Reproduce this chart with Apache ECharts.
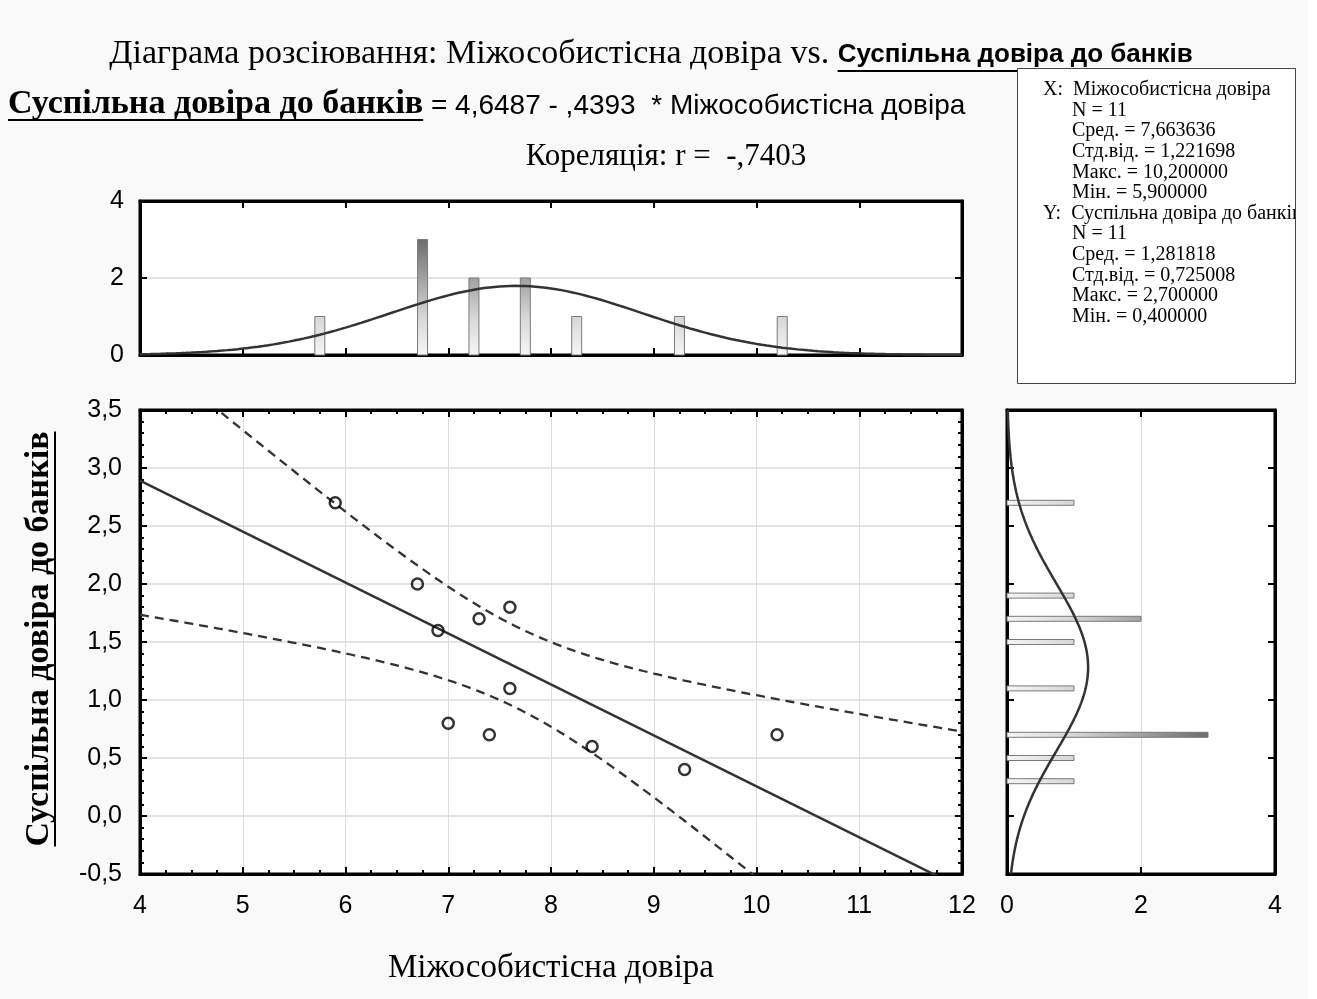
<!DOCTYPE html>
<html>
<head>
<meta charset="utf-8">
<script src="https://cdn.jsdelivr.net/npm/echarts@6/dist/echarts.min.js"></script>
<style>
  html, body { margin: 0; padding: 0; background: #ffffff; }
  #chart { width: 1317px; height: 999px; }
</style>
</head>
<body>
<div id="chart"></div>
<script>
// ---- data ----
const xName = 'Міжособистісна довіра';
const yName = 'Суспільна довіра до банків';
const xValues = [5.9, 6.7, 6.9, 7.3, 7.6, 7.6, 7.0, 7.4, 8.4, 9.3, 10.2];
const yValues = [2.7, 2.0, 1.6, 1.7, 1.8, 1.1, 0.8, 0.7, 0.6, 0.4, 0.7];

// histogram of X (bar position, count)
const xHistPos = [5.75, 6.75, 7.25, 7.75, 8.25, 9.25, 10.25];
const xHistCount = [1, 3, 2, 2, 1, 1, 1];
const xHistBinWidth = 0.5;
// histogram of Y (bar position, count)
const yHistPos = [0.3, 0.5, 0.7, 1.1, 1.5, 1.7, 1.9, 2.7];
const yHistCount = [1, 1, 3, 1, 1, 2, 1, 1];
const yHistBinWidth = 0.2;

// summary statistics
const nObs = 11;
const xMean = 7.663636, xSd = 1.221698, xMax = 10.2, xMin = 5.9;
const yMean = 1.281818, ySd = 0.725008, yMax = 2.7, yMin = 0.4;
const intercept = 4.6487, slope = -0.4393, corr = -0.7403;
const tCrit = 2.262157; // t(0.975, n-2)

// tick labels
const mainXTicks = [4, 5, 6, 7, 8, 9, 10, 11, 12];
const mainYTicks = [-0.5, 0, 0.5, 1, 1.5, 2, 2.5, 3, 3.5];
const histCountTicks = [0, 2, 4];

// ---- helpers ----
const fmtNum = (v, d) => v.toFixed(d).replace('.', ',');
const fmtCoef = v => Math.abs(v).toFixed(4).replace('.', ',').replace(/^0/, '');
const normPdf = (v, m, s) => Math.exp(-0.5 * ((v - m) / s) ** 2) / (s * Math.sqrt(2 * Math.PI));

const measureCtx = document.createElement('canvas').getContext('2d');
function textWidth(str, font) { measureCtx.font = font; return measureCtx.measureText(str).width; }

// fitted normal curves for the marginal histograms
const xCurve = [];
for (let v = mainXTicks[0]; v <= mainXTicks[mainXTicks.length - 1] + 1e-9; v += 0.05) {
  xCurve.push([v, nObs * xHistBinWidth * normPdf(v, xMean, xSd)]);
}
const yCurve = [];
for (let v = mainYTicks[0]; v <= mainYTicks[mainYTicks.length - 1] + 1e-9; v += 0.02) {
  yCurve.push([nObs * yHistBinWidth * normPdf(v, yMean, ySd), v]);
}

// regression line and its 95% confidence band
const fitY = v => intercept + slope * v;
const sxx = (nObs - 1) * xSd * xSd;
const resSd = ySd * Math.sqrt((nObs - 1) * (1 - corr * corr) / (nObs - 2));
const xLo = mainXTicks[0], xHi = mainXTicks[mainXTicks.length - 1];
const fitLine = [[xLo, fitY(xLo)], [xHi, fitY(xHi)]];
const bandUpper = [], bandLower = [];
for (let v = xLo; v <= xHi + 1e-9; v += 0.05) {
  const h = tCrit * resSd * Math.sqrt(1 / nObs + (v - xMean) ** 2 / sxx);
  bandUpper.push([v, fitY(v) + h]);
  bandLower.push([v, fitY(v) - h]);
}

// ---- styles ----
const SANS = '"Liberation Sans", Arial, sans-serif';
const SERIF = '"Liberation Serif", "Times New Roman", serif';
const INK = '#000';
const CURVE = '#333333';
const PANEL = '#f9f9f9';

const frameLine = { show: true, onZero: false, lineStyle: { color: INK, width: 3 } };
const tickIn = { show: true, inside: true, length: 7, lineStyle: { color: INK, width: 2 } };
const minorIn = n => ({ show: true, splitNumber: n, length: 4, lineStyle: { color: INK, width: 2 } });
const noLabel = { show: false };
const tickLabel = (margin, fmt) => ({ show: true, color: INK, fontFamily: SANS, fontSize: 25, margin, formatter: fmt });

function axisCommon(extra) {
  return Object.assign({
    type: 'value', axisLine: frameLine, axisTick: tickIn, splitLine: { show: false },
    axisLabel: noLabel
  }, extra);
}

// ---- layout ----
const gTop = { left: 140, top: 201, width: 822, height: 154 };
const gMain = { left: 140, top: 410, width: 822, height: 464 };
const gRight = { left: 1007, top: 410, width: 268, height: 464 };
const gridStyle = { show: true, backgroundColor: '#ffffff', borderColor: INK, borderWidth: 3, containLabel: false };

// ---- text blocks ----
const titleFontA = '34px ' + SERIF;
const titleFontB = 'bold 26px ' + SANS;
const titleA = 'Діаграма розсіювання: ' + xName + ' vs. ';
const titleB = yName;
const wTA = textWidth(titleA, titleFontA), wTB = textWidth(titleB, titleFontB);
const titleX0 = 651 - (wTA + wTB) / 2;

const eqFontA = 'bold 34px ' + SERIF;
const eqFontB = '28px ' + SANS;
const eqA = yName;
const eqB = ' = ' + fmtNum(intercept, 4) + ' - ' + fmtCoef(slope) + '  * ' + xName;
const wEA = textWidth(eqA, eqFontA);
const eqX0 = 8;

const corrText = 'Кореляція: r =  -' + fmtCoef(corr);

const statLines = [
  ['X:  ' + xName, 1043],
  ['N = ' + nObs, 1072],
  ['Сред. = ' + fmtNum(xMean, 6), 1072],
  ['Стд.від. = ' + fmtNum(xSd, 6), 1072],
  ['Макс. = ' + fmtNum(xMax, 6), 1072],
  ['Мін. = ' + fmtNum(xMin, 6), 1072],
  ['Y:  ' + yName, 1043],
  ['N = ' + nObs, 1072],
  ['Сред. = ' + fmtNum(yMean, 6), 1072],
  ['Стд.від. = ' + fmtNum(ySd, 6), 1072],
  ['Макс. = ' + fmtNum(yMax, 6), 1072],
  ['Мін. = ' + fmtNum(yMin, 6), 1072]
];
const statFont = '20px ' + SERIF;
const statBox = { x: 1017, y: 68, w: 278, h: 315 };
const boxRight = statBox.x + statBox.w;

const yTitleFont = 'bold 34px ' + SERIF;
const wYT = textWidth(yName, yTitleFont);

const graphics = [
  { type: 'rect', z: -10, silent: true, shape: { x: 0, y: 0, width: 1308, height: 999 }, style: { fill: PANEL } },
  // title line 1
  { type: 'text', x: titleX0, y: 54, style: { text: titleA, font: titleFontA, fill: INK, textVerticalAlign: 'middle' } },
  { type: 'text', x: titleX0 + wTA, y: 55, style: { text: titleB, font: titleFontB, fill: INK, textVerticalAlign: 'middle' } },
  { type: 'line', shape: { x1: titleX0 + wTA, y1: 71, x2: titleX0 + wTA + wTB, y2: 71 }, style: { stroke: INK, lineWidth: 2 } },
  // regression equation
  { type: 'text', x: eqX0, y: 104, style: { text: eqA, font: eqFontA, fill: INK, textVerticalAlign: 'middle' } },
  { type: 'line', shape: { x1: eqX0, y1: 120, x2: eqX0 + wEA, y2: 120 }, style: { stroke: INK, lineWidth: 2 } },
  { type: 'text', x: eqX0 + wEA, y: 106, style: { text: eqB, font: eqFontB, fill: INK, textVerticalAlign: 'middle' } },
  // correlation
  { type: 'text', x: 666, y: 157, style: { text: corrText, font: '31px ' + SERIF, fill: INK, textAlign: 'center', textVerticalAlign: 'middle' } },
  // axis titles
  { type: 'text', x: 551, y: 968, style: { text: xName, font: '33px ' + SERIF, fill: INK, textAlign: 'center', textVerticalAlign: 'middle' } },
  { type: 'text', x: 39, y: 639, rotation: Math.PI / 2, style: { text: yName, font: yTitleFont, fill: INK, textAlign: 'center', textVerticalAlign: 'middle' } },
  { type: 'line', shape: { x1: 55, y1: 639 - wYT / 2, x2: 55, y2: 639 + wYT / 2 }, style: { stroke: INK, lineWidth: 2 } },
  // statistics box
  { type: 'rect', z: 10, shape: { x: statBox.x, y: statBox.y, width: statBox.w, height: statBox.h }, style: { fill: '#ffffff', stroke: 'none' } }
];
statLines.forEach((ln, i) => {
  graphics.push({
    type: 'text', z: 11, x: ln[1], y: 90 + i * 20.6,
    style: { text: ln[0], font: statFont, fill: INK, textVerticalAlign: 'middle' }
  });
});
// text running past the right edge of the box is hidden under the page margin
graphics.push(
  { type: 'rect', z: 12, silent: true, shape: { x: boxRight, y: statBox.y - 2, width: 1308 - boxRight, height: statBox.h + 4 }, style: { fill: PANEL } },
  { type: 'rect', z: 12, silent: true, shape: { x: 1308, y: statBox.y - 2, width: 20, height: statBox.h + 4 }, style: { fill: '#ffffff' } },
  { type: 'rect', z: 13, shape: { x: statBox.x + 0.5, y: statBox.y + 0.5, width: statBox.w, height: statBox.h }, style: { fill: 'none', stroke: '#444', lineWidth: 1 } }
);

// gradient fill for histogram bars: light at zero, darker with count
function barFill(p0, p1, horizontal) {
  const stops = [{ offset: 0, color: '#f6f6f6' }, { offset: 0.25, color: '#d6d6d6' }, { offset: 0.75, color: '#6c6c6c' }, { offset: 1, color: '#444444' }];
  return horizontal
    ? new echarts.graphic.LinearGradient(p0, 0, p1, 0, stops, true)
    : new echarts.graphic.LinearGradient(0, p0, 0, p1, stops, true);
}

const option = {
  animation: false,
  backgroundColor: 'transparent',
  graphic: graphics,
  grid: [Object.assign({}, gTop, gridStyle), Object.assign({}, gMain, gridStyle), Object.assign({}, gRight, gridStyle)],
  xAxis: [
    axisCommon({ gridIndex: 0, position: 'bottom', min: 4, max: 12, interval: 1 }),
    axisCommon({ gridIndex: 0, position: 'top', min: 4, max: 12, interval: 1 }),
    axisCommon({ gridIndex: 1, position: 'bottom', min: 4, max: 12, interval: 1,
      axisLabel: tickLabel(20, v => String(v)), minorTick: minorIn(4),
      splitLine: { show: true, lineStyle: { color: '#dddddd', width: 1 } } }),
    axisCommon({ gridIndex: 1, position: 'top', min: 4, max: 12, interval: 1, minorTick: minorIn(4) }),
    axisCommon({ gridIndex: 2, position: 'bottom', min: 0, max: 4, interval: 2,
      axisLabel: tickLabel(20, v => String(v)),
      splitLine: { show: true, lineStyle: { color: '#dddddd', width: 1 } } }),
    axisCommon({ gridIndex: 2, position: 'top', min: 0, max: 4, interval: 2 })
  ],
  yAxis: [
    axisCommon({ gridIndex: 0, position: 'left', min: 0, max: 4, interval: 2,
      axisLabel: tickLabel(16, v => String(v)),
      splitLine: { show: true, lineStyle: { color: '#e4e4e4', width: 2 } } }),
    axisCommon({ gridIndex: 0, position: 'right', min: 0, max: 4, interval: 2 }),
    axisCommon({ gridIndex: 1, position: 'left', min: -0.5, max: 3.5, interval: 0.5,
      axisLabel: tickLabel(18, v => fmtNum(v, 1)), minorTick: minorIn(5),
      splitLine: { show: true, lineStyle: { color: '#e4e4e4', width: 2 } } }),
    axisCommon({ gridIndex: 1, position: 'right', min: -0.5, max: 3.5, interval: 0.5, minorTick: minorIn(5) }),
    axisCommon({ gridIndex: 2, position: 'left', min: -0.5, max: 3.5, interval: 0.5 }),
    axisCommon({ gridIndex: 2, position: 'right', min: -0.5, max: 3.5, interval: 0.5 })
  ],
  series: [
    {
      type: 'custom', name: 'xHist', xAxisIndex: 0, yAxisIndex: 0,
      data: xHistPos.map((p, i) => [p, xHistCount[i]]),
      renderItem: (params, api) => {
        const x = api.value(0), c = api.value(1);
        const base = api.coord([x, 0]), top = api.coord([x, c]), full = api.coord([x, 4]);
        const w = 10;
        return {
          type: 'rect',
          shape: { x: base[0] - w / 2, y: top[1], width: w, height: base[1] - top[1] },
          style: { fill: barFill(base[1], full[1], false), stroke: '#7a7a7a', lineWidth: 1 }
        };
      }
    },
    {
      type: 'line', name: 'xNormal', xAxisIndex: 0, yAxisIndex: 0, data: xCurve,
      showSymbol: false, smooth: false, lineStyle: { color: CURVE, width: 2.5 }, z: 3
    },
    {
      type: 'line', name: 'fit', xAxisIndex: 2, yAxisIndex: 2, data: fitLine, clip: true,
      showSymbol: false, lineStyle: { color: CURVE, width: 2.5 }
    },
    {
      type: 'line', name: 'upper95', xAxisIndex: 2, yAxisIndex: 2, data: bandUpper, clip: true,
      showSymbol: false, lineStyle: { color: CURVE, width: 2.3, type: [9, 6] }
    },
    {
      type: 'line', name: 'lower95', xAxisIndex: 2, yAxisIndex: 2, data: bandLower, clip: true,
      showSymbol: false, lineStyle: { color: CURVE, width: 2.3, type: [9, 6] }
    },
    {
      type: 'scatter', name: 'obs', xAxisIndex: 2, yAxisIndex: 2,
      data: xValues.map((v, i) => [v, yValues[i]]),
      symbol: 'circle', symbolSize: 11, z: 5,
      itemStyle: { color: 'rgba(255,255,255,0)', borderColor: INK, borderWidth: 2.5 }
    },
    {
      type: 'custom', name: 'yHist', xAxisIndex: 4, yAxisIndex: 4,
      data: yHistPos.map((p, i) => [yHistCount[i], p]),
      renderItem: (params, api) => {
        const c = api.value(0), y = api.value(1);
        const base = api.coord([0, y]), end = api.coord([c, y]), full = api.coord([4, y]);
        const h = 5;
        return {
          type: 'rect',
          shape: { x: base[0], y: base[1] - h / 2, width: end[0] - base[0], height: h },
          style: { fill: barFill(base[0], full[0], true), stroke: '#7a7a7a', lineWidth: 1 }
        };
      }
    },
    {
      type: 'line', name: 'yNormal', xAxisIndex: 4, yAxisIndex: 4, data: yCurve,
      showSymbol: false, smooth: false, lineStyle: { color: CURVE, width: 2.5 }, z: 3
    }
  ]
};

const chart = echarts.init(document.getElementById('chart'), null, { renderer: 'canvas' });
chart.setOption(option);
</script>
</body>
</html>
